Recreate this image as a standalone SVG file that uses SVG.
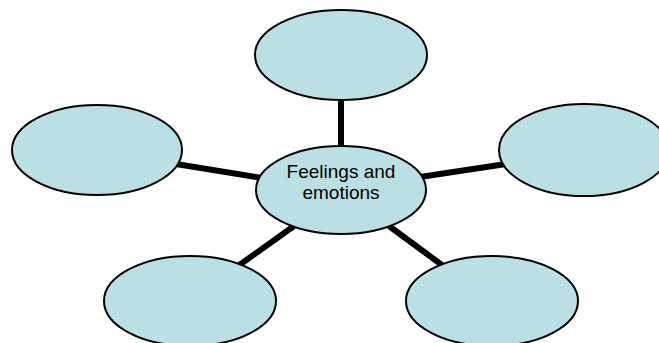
<svg xmlns="http://www.w3.org/2000/svg" width="659" height="343" viewBox="0 0 659 343">
<style>
.n{fill:#bbe0e3;stroke:#000;stroke-width:2}
.c{stroke:#000;stroke-width:6;stroke-linecap:butt}
.t{font-family:"Liberation Sans",Arial,sans-serif;font-size:19px;fill:#000;text-anchor:middle}
</style>
<rect width="659" height="343" fill="#fff"/>
<g id="connectors">
<line class="c" x1="341" y1="98" x2="341" y2="150"/>
<line class="c" x1="176" y1="164" x2="262" y2="178"/>
<line class="c" x1="420" y1="177" x2="506" y2="164"/>
<line class="c" x1="238" y1="266" x2="294" y2="226"/>
<line class="c" x1="389" y1="226" x2="446" y2="268"/>
</g>
<g id="node-top"><ellipse class="n" cx="341" cy="55" rx="86" ry="45"/></g>
<g id="node-left"><ellipse class="n" cx="97" cy="150" rx="85" ry="45"/></g>
<g id="node-right"><ellipse class="n" cx="584" cy="150" rx="85" ry="46"/></g>
<g id="node-bottom-left"><ellipse class="n" cx="190" cy="301" rx="86" ry="45"/></g>
<g id="node-bottom-right"><ellipse class="n" cx="492" cy="301" rx="86" ry="45"/></g>
<g id="node-center"><ellipse class="n" cx="341" cy="190" rx="85" ry="44"/>
<text class="t" x="341" y="178">Feelings and</text>
<text class="t" x="341" y="199">emotions</text></g>
</svg>
